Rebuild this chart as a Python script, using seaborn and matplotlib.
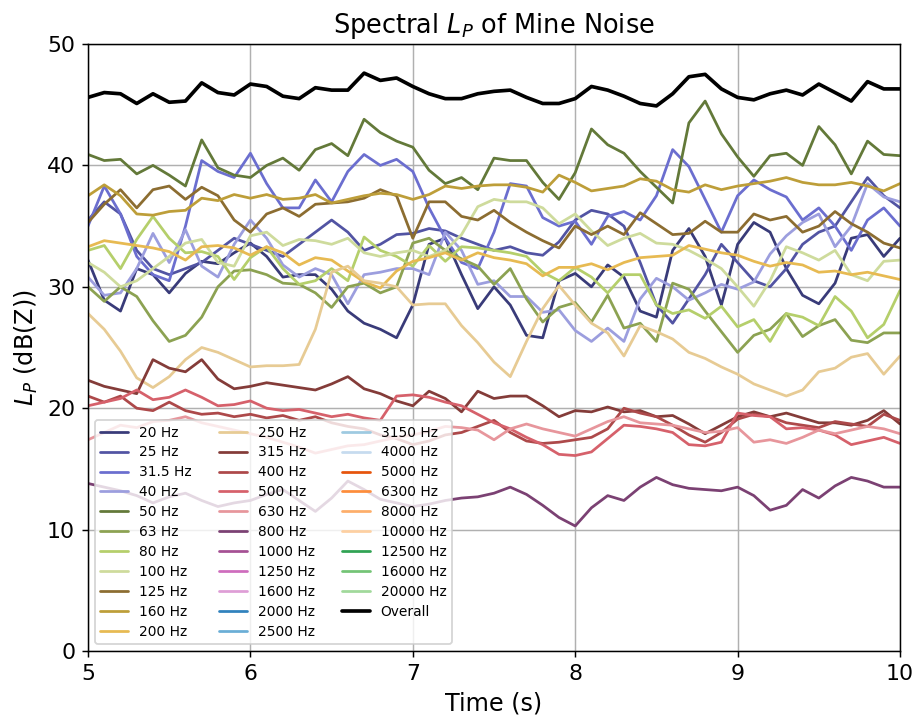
import matplotlib
matplotlib.use("Agg")
import matplotlib.pyplot as plt
from matplotlib.lines import Line2D
import numpy as np
import pandas as pd
import seaborn as sns

# time axis, 0.1 s steps
time_s = np.round(np.arange(5.0, 10.001, 0.1), 1)

bands = ["20 Hz", "25 Hz", "31.5 Hz", "40 Hz", "50 Hz", "63 Hz", "80 Hz", "100 Hz",
         "125 Hz", "160 Hz", "200 Hz", "250 Hz", "315 Hz", "400 Hz", "500 Hz", "630 Hz",
         "800 Hz", "1000 Hz", "1250 Hz", "1600 Hz", "2000 Hz", "2500 Hz", "3150 Hz",
         "4000 Hz", "5000 Hz", "6300 Hz", "8000 Hz", "10000 Hz", "12500 Hz", "16000 Hz",
         "20000 Hz"]

lp_20 = [32.2, 28.9, 28.0, 31.5, 31.0, 29.5, 31.1, 32.1, 31.9, 32.8,
         33.6, 32.5, 30.8, 31.0, 31.0, 29.8, 28.0, 27.0, 26.5, 25.8,
         28.5, 33.5, 34.0, 31.0, 28.2, 30.0, 28.5, 26.0, 25.8, 30.5,
         31.1, 30.0, 31.8, 30.8, 28.0, 27.5, 33.0, 34.8, 32.5, 28.5,
         33.5, 35.3, 34.5, 31.5, 29.3, 28.6, 30.3, 34.0, 34.3, 32.5,
         34.0]
lp_25 = [35.5, 37.0, 36.0, 33.0, 31.5, 31.0, 31.5, 32.0, 33.0, 34.0,
         33.5, 33.0, 32.5, 33.5, 34.5, 35.5, 34.5, 33.0, 33.5, 34.3,
         34.4, 34.8, 34.6, 34.0, 33.5, 33.0, 33.3, 32.8, 32.6, 33.7,
         35.5, 36.3, 36.0, 35.0, 32.0, 28.5, 27.0, 29.0, 31.0, 33.5,
         32.0, 30.5, 30.0, 31.5, 33.5, 34.5, 35.0, 37.0, 39.0, 37.5,
         36.5]
lp_31_5 = [35.0, 38.3, 36.0, 32.5, 31.0, 30.5, 35.0, 40.4, 39.5, 39.0,
           41.0, 38.5, 36.5, 36.5, 38.8, 37.0, 39.5, 40.9, 40.0, 40.5,
           39.5, 36.5, 34.0, 32.0, 31.5, 34.5, 38.5, 38.3, 35.7, 35.0,
           35.4, 33.5, 35.8, 36.2, 35.5, 37.5, 41.3, 39.9, 37.2, 34.5,
           37.5, 38.8, 38.0, 37.4, 35.5, 36.5, 35.0, 33.0, 35.5, 36.5,
           35.0]
lp_40 = [30.8, 29.3, 29.5, 31.5, 34.4, 32.0, 34.7, 31.7, 30.8, 33.5,
         35.5, 34.0, 31.8, 30.8, 31.5, 31.0, 28.6, 31.0, 31.2, 31.5,
         31.5, 31.0, 34.5, 33.0, 30.2, 30.5, 29.2, 29.2, 27.9, 28.1,
         26.4, 25.5, 26.6, 25.5, 29.0, 30.7, 30.0, 28.9, 29.5, 30.2,
         29.8, 30.4, 32.7, 34.2, 35.3, 36.0, 33.3, 35.0, 38.5, 37.4,
         37.0]
lp_50 = [40.9, 40.4, 40.5, 39.3, 40.0, 39.2, 38.3, 42.1, 39.8, 39.2,
         39.0, 40.0, 40.6, 39.6, 41.3, 41.8, 40.8, 43.8, 42.7, 42.0,
         41.5, 39.6, 38.5, 39.0, 38.0, 40.6, 40.4, 40.4, 38.6, 37.2,
         39.4, 43.0, 41.7, 41.0, 39.5, 38.2, 36.9, 43.5, 45.3, 42.6,
         40.7, 39.1, 40.8, 41.0, 40.0, 43.2, 41.7, 39.3, 42.0, 40.9,
         40.8]
lp_63 = [30.0, 28.8, 30.0, 29.2, 27.2, 25.5, 26.0, 27.5, 30.0, 31.3,
         31.4, 31.0, 30.3, 30.2, 29.5, 28.3, 30.0, 30.3, 29.5, 30.0,
         33.6, 34.0, 33.0, 32.3, 31.7, 30.2, 31.5, 29.0, 27.1, 28.3,
         28.7, 27.1, 29.3, 26.6, 27.0, 25.5, 30.3, 29.8, 28.0, 26.3,
         24.6, 26.0, 26.5, 27.8, 25.9, 26.8, 27.3, 25.6, 25.4, 26.2,
         26.2]
lp_80 = [33.0, 33.4, 31.5, 33.9, 35.8, 34.0, 32.8, 32.9, 32.5, 30.6,
         32.4, 33.3, 31.5, 30.2, 30.5, 31.5, 30.5, 34.1, 33.0, 32.5,
         31.7, 33.4, 32.1, 33.3, 33.2, 33.0, 32.8, 32.5, 31.2, 30.5,
         31.6, 30.8, 29.5, 31.0, 31.0, 28.5, 27.8, 28.1, 27.4, 28.4,
         26.7, 27.3, 25.5, 27.8, 27.5, 26.8, 29.2, 28.0, 25.8, 26.9,
         29.7]
lp_100 = [32.0, 31.2, 30.0, 30.5, 31.5, 32.5, 33.6, 33.9, 32.0, 31.7,
          34.2, 34.5, 33.4, 33.9, 33.8, 33.5, 34.0, 32.8, 32.5, 32.8,
          33.0, 32.5, 33.0, 34.3, 36.6, 37.2, 37.0, 37.0, 36.5, 35.2,
          36.0, 34.6, 33.4, 34.0, 34.4, 33.6, 33.5, 33.0, 32.3, 31.5,
          30.0, 28.4, 30.5, 33.3, 32.8, 32.2, 33.0, 31.0, 30.5, 32.1,
          32.2]
lp_125 = [35.3, 36.8, 38.0, 36.5, 38.0, 38.3, 37.2, 38.2, 37.5, 35.5,
          34.5, 36.0, 36.5, 35.8, 36.8, 36.9, 37.0, 37.3, 38.0, 37.5,
          34.0, 37.0, 37.0, 35.8, 35.5, 36.3, 35.3, 34.5, 33.8, 33.2,
          35.0, 34.3, 35.0, 34.3, 36.1, 35.2, 34.3, 34.4, 35.4, 34.5,
          34.5, 36.0, 35.5, 35.8, 34.5, 35.0, 36.2, 35.2, 34.5, 33.6,
          33.2]
lp_160 = [37.5, 38.4, 37.5, 36.0, 35.9, 36.2, 36.3, 37.3, 37.1, 37.6,
          37.3, 37.6, 37.2, 37.3, 37.6, 36.9, 37.2, 37.5, 37.7, 37.6,
          37.2, 37.6, 38.3, 38.1, 38.3, 38.4, 38.4, 38.2, 37.8, 39.2,
          38.6, 37.9, 38.1, 38.3, 38.9, 38.7, 38.0, 37.8, 38.4, 38.0,
          38.3, 38.5, 38.7, 39.0, 38.6, 38.4, 38.4, 38.6, 38.3, 37.9,
          38.5]
lp_200 = [33.3, 33.8, 33.6, 33.4, 33.2, 32.9, 32.2, 33.3, 33.4, 33.2,
          32.6, 33.3, 32.8, 31.8, 32.4, 32.2, 31.3, 30.4, 29.9, 31.3,
          32.1, 32.4, 32.8, 32.2, 32.8, 32.4, 32.2, 31.9, 30.9, 31.6,
          31.6, 31.9, 31.4, 32.0, 32.4, 32.5, 32.6, 33.4, 33.1, 32.8,
          32.6, 32.1, 31.7, 32.0, 31.8, 31.2, 31.3, 31.0, 31.2, 30.9,
          30.6]
lp_250 = [27.8, 26.5, 24.7, 22.5, 21.7, 22.6, 24.0, 25.0, 24.6, 24.0,
          23.4, 23.5, 23.5, 23.6, 26.5, 31.2, 31.7, 30.5, 30.3, 30.0,
          28.5, 28.6, 28.6, 26.8, 25.4, 23.8, 22.6, 25.5, 28.2, 30.1,
          28.5, 27.0, 26.2, 24.3, 26.8, 26.3, 25.7, 24.6, 24.1, 23.4,
          22.8, 22.0, 21.5, 21.0, 21.5, 23.0, 23.3, 24.2, 24.5, 22.8,
          24.3]
lp_315 = [22.3, 21.8, 21.5, 21.2, 24.0, 23.3, 23.0, 24.0, 22.4, 21.6,
          21.8, 22.1, 21.9, 21.7, 21.5, 22.0, 22.6, 21.6, 21.2, 20.6,
          20.2, 21.4, 20.8, 19.7, 21.4, 20.8, 21.0, 21.0, 20.2, 19.3,
          19.8, 19.7, 20.1, 19.7, 19.8, 19.3, 19.4, 18.7, 17.9, 18.6,
          19.3, 19.7, 19.3, 19.6, 19.2, 18.8, 18.8, 18.6, 19.0, 19.8,
          18.7]
lp_400 = [21.0, 20.5, 21.0, 20.0, 19.8, 20.5, 19.8, 19.5, 19.6, 19.3,
          19.5, 19.2, 19.4, 19.0, 19.3, 18.8, 18.5, 18.3, 17.8, 17.5,
          17.0, 17.3, 17.8, 18.0, 18.5, 19.0, 18.0, 17.3, 17.1, 17.2,
          17.4, 17.6, 18.3, 20.0, 19.6, 19.3, 18.6, 17.8, 17.2, 18.0,
          19.1, 19.5, 19.3, 18.8, 18.6, 18.4, 18.9, 18.7, 18.5, 19.5,
          19.0]
lp_500 = [20.2, 20.5, 20.8, 21.5, 20.7, 20.9, 21.5, 20.9, 20.2, 20.3,
          20.6, 20.0, 19.8, 19.9, 19.6, 19.3, 19.5, 19.2, 19.0, 21.0,
          21.1, 20.9, 20.5, 20.2, 19.5, 18.8, 18.3, 17.6, 17.0, 16.2,
          16.1, 16.4, 17.5, 18.6, 18.5, 18.3, 18.0, 17.0, 16.9, 17.2,
          19.6, 19.4, 19.3, 18.3, 18.4, 18.2, 17.8, 17.0, 17.3, 17.6,
          17.1]
lp_630 = [17.4, 18.0, 18.6, 18.4, 18.9, 19.0, 19.3, 18.8, 18.5, 18.2,
          17.9, 17.6, 17.2, 16.8, 16.3, 16.6, 16.9, 17.0, 17.3, 17.6,
          17.8, 18.1, 18.5, 18.4, 18.2, 17.4, 18.3, 18.7, 18.3, 18.0,
          17.7, 18.3, 18.9, 19.3, 18.8, 18.7, 18.6, 18.3, 18.0, 18.1,
          18.4, 17.2, 17.4, 17.1, 17.6, 18.2, 17.9, 18.2, 18.5, 18.3,
          17.9]
lp_800 = [13.8, 13.5, 13.2, 12.8, 12.2, 12.7, 13.0, 12.4, 11.9, 12.2,
          12.4, 12.9, 13.3, 12.4, 11.5, 12.6, 14.0, 13.3, 12.5, 12.2,
          11.9, 12.1, 12.4, 12.6, 12.7, 13.0, 13.5, 12.9, 12.0, 11.0,
          10.3, 11.8, 12.8, 12.4, 13.5, 14.3, 13.7, 13.4, 13.3, 13.2,
          13.5, 12.8, 11.6, 12.0, 13.3, 12.6, 13.6, 14.3, 14.0, 13.5,
          13.5]
lp_overall = [45.6, 46.0, 45.9, 45.1, 45.9, 45.2, 45.3, 46.8, 46.0, 45.8,
              46.7, 46.5, 45.7, 45.5, 46.4, 46.2, 46.2, 47.6, 47.0, 47.2,
              46.5, 45.9, 45.5, 45.5, 45.9, 46.1, 46.2, 45.6, 45.1, 45.1,
              45.5, 46.5, 46.2, 45.7, 45.1, 44.9, 45.9, 47.3, 47.5, 46.3,
              45.6, 45.4, 45.9, 46.2, 45.8, 46.7, 46.0, 45.3, 46.9, 46.3,
              46.3]

# bands 1000 Hz and up have no visible trace in the plotted range
levels = [lp_20, lp_25, lp_31_5, lp_40, lp_50, lp_63, lp_80, lp_100, lp_125,
          lp_160, lp_200, lp_250, lp_315, lp_400, lp_500, lp_630, lp_800]

colors = sns.color_palette("tab20b") + sns.color_palette("tab20c")[:11]

rows = []
for band, lp in zip(bands, levels):
    for t, v in zip(time_s, lp):
        rows.append({"time": t, "band": band, "lp": v})
for t, v in zip(time_s, lp_overall):
    rows.append({"time": t, "band": "Overall", "lp": v})
df = pd.DataFrame(rows)

sns.set_style("ticks", {"axes.grid": True, "grid.color": "#b0b0b0",
                        "axes.edgecolor": "black", "xtick.color": "black",
                        "ytick.color": "black", "text.color": "black",
                        "axes.labelcolor": "black"})
plt.rcParams["font.family"] = ["DejaVu Sans"]

fig, ax = plt.subplots(figsize=(914 / 132, 720 / 132), dpi=132)
fig.subplots_adjust(left=0.0963, right=0.9847, top=0.9389, bottom=0.0958)

visible = bands[:len(levels)] + ["Overall"]
palette = {b: c for b, c in zip(bands, colors)}
palette["Overall"] = "black"
sns.lineplot(data=df, x="time", y="lp", hue="band", hue_order=visible,
             palette=palette, estimator=None, sort=False, linewidth=1.5,
             legend=False, ax=ax)
ax.lines[-1].set_linewidth(2.0)

handles = [Line2D([], [], color=c, lw=1.5 if b != "Overall" else 2.0, label=b)
           for b, c in zip(bands + ["Overall"], colors + ["black"])]
ax.legend(handles=handles, loc="lower left", ncol=3, fontsize=7.5,
          labelspacing=0.43)

ax.set_xlim(5, 10)
ax.set_ylim(0, 50)
ax.set_title("Spectral $L_P$ of Mine Noise", fontsize=14)
ax.set_xlabel("Time (s)", fontsize=13)
ax.set_ylabel("$L_P$ (dB(Z))", fontsize=13)
ax.tick_params(labelsize=12)
ax.grid(True, color="#b0b0b0", linewidth=0.8)

fig.savefig("out.png", dpi=132)
plt.close(fig)
